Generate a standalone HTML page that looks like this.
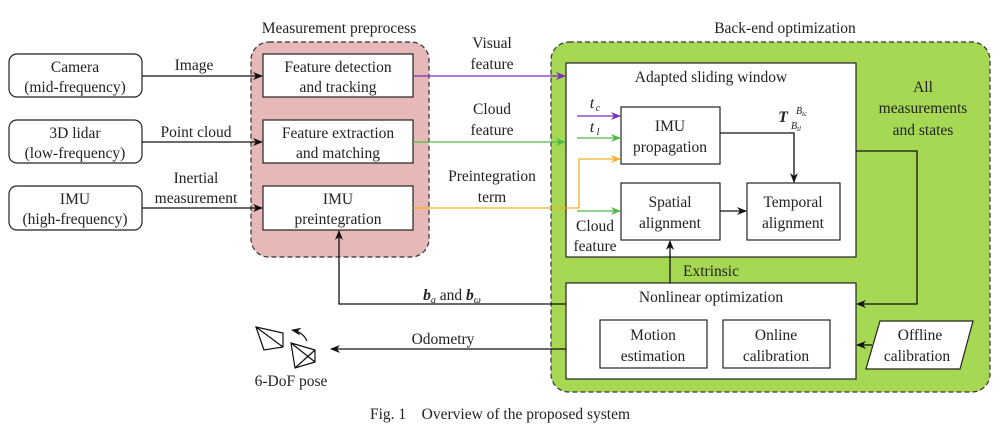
<!DOCTYPE html>
<html><head><meta charset="utf-8"><style>
html,body{margin:0;padding:0;background:#fff;}
svg{display:block;}
svg text{font-family:"Liberation Serif","DejaVu Serif",serif !important;font-size:15.5px;fill:#222;text-anchor:middle;}
</style></head><body>
<svg width="1002" height="437" viewBox="0 0 1002 437" xmlns="http://www.w3.org/2000/svg" font-family="Liberation Serif, serif">
<defs>
<marker id="ak" markerWidth="10" markerHeight="8" refX="9" refY="4" orient="auto" markerUnits="userSpaceOnUse"><path d="M0,0 L10,4 L0,8 L3,4 Z" fill="#111"/></marker>
<marker id="ap" markerWidth="10" markerHeight="8" refX="9" refY="4" orient="auto" markerUnits="userSpaceOnUse"><path d="M0,0 L10,4 L0,8 L3,4 Z" fill="#7b2fbe"/></marker>
<marker id="ag" markerWidth="10" markerHeight="8" refX="9" refY="4" orient="auto" markerUnits="userSpaceOnUse"><path d="M0,0 L10,4 L0,8 L3,4 Z" fill="#4cbb47"/></marker>
<marker id="ao" markerWidth="10" markerHeight="8" refX="9" refY="4" orient="auto" markerUnits="userSpaceOnUse"><path d="M0,0 L10,4 L0,8 L3,4 Z" fill="#f5b025"/></marker>
</defs>
<rect x="251" y="42" width="178" height="215" rx="18" fill="#e6b8b7" stroke="#333" stroke-dasharray="5,3" stroke-width="1.2"/>
<text x="339" y="33">Measurement preprocess</text>
<rect x="551" y="42" width="439" height="350" rx="18" fill="#a6d854" stroke="#333" stroke-dasharray="5,3" stroke-width="1.2"/>
<text x="785" y="33">Back-end optimization</text>
<g fill="#fff" stroke="#222" stroke-width="1.2">
<rect x="9" y="54" width="133" height="43" rx="8"/>
<rect x="9" y="120" width="133" height="43" rx="8"/>
<rect x="9" y="186" width="133" height="44" rx="8"/>
<rect x="263" y="54" width="150" height="43"/>
<rect x="263" y="120" width="150" height="43"/>
<rect x="263" y="186" width="150" height="44"/>
<rect x="566" y="63" width="290" height="194"/>
<rect x="621" y="107" width="99" height="57"/>
<rect x="621" y="183" width="99" height="57"/>
<rect x="747" y="183" width="93" height="57"/>
<rect x="566" y="283" width="290" height="96"/>
<rect x="600" y="320" width="107" height="48"/>
<rect x="723" y="320" width="107" height="48"/>
<path d="M880,321 L973,321 L960,369 L866,369 Z"/>
</g>
<text x="75" y="72">Camera</text><text x="75" y="92">(mid-frequency)</text>
<text x="75" y="138">3D lidar</text><text x="75" y="158">(low-frequency)</text>
<text x="75" y="204">IMU</text><text x="75" y="224">(high-frequency)</text>
<text x="338" y="72">Feature detection</text><text x="338" y="92">and tracking</text>
<text x="338" y="138">Feature extraction</text><text x="338" y="158">and matching</text>
<text x="338" y="204">IMU</text><text x="338" y="224">preintegration</text>
<text x="711" y="82">Adapted sliding window</text>
<text x="670" y="131">IMU</text><text x="670" y="152">propagation</text>
<text x="670" y="207">Spatial</text><text x="670" y="228">alignment</text>
<text x="793" y="207">Temporal</text><text x="793" y="228">alignment</text>
<text x="711" y="302">Nonlinear optimization</text>
<text x="653" y="340">Motion</text><text x="653" y="361">estimation</text>
<text x="776" y="340">Online</text><text x="776" y="361">calibration</text>
<text x="920" y="340">Offline</text><text x="917" y="361">calibration</text>
<text x="923" y="92">All</text><text x="923" y="113">measurements</text><text x="923" y="135">and states</text>
<text x="194" y="70">Image</text>
<text x="196" y="137">Point cloud</text>
<text x="196" y="183">Inertial</text><text x="196" y="203">measurement</text>
<text x="492" y="48">Visual</text><text x="492" y="69">feature</text>
<text x="492" y="114">Cloud</text><text x="492" y="135">feature</text>
<text x="492" y="181">Preintegration</text><text x="492" y="202">term</text>
<text x="595" y="231">Cloud</text><text x="595" y="251">feature</text>
<text x="592" y="108" font-style="italic">t</text><text x="598" y="111" style="font-size:10px;font-style:italic">c</text>
<text x="592" y="132" font-style="italic">t</text><text x="598" y="135" style="font-size:10px;font-style:italic">l</text>
<text x="783" y="122" style="font-weight:bold;font-style:italic;font-size:16px">T</text>
<text x="796" y="114" style="font-size:10px;font-style:italic;text-anchor:start">B<tspan style="font-size:7px" dy="2">tc</tspan></text>
<text x="791" y="129" style="font-size:10px;font-style:italic;text-anchor:start">B<tspan style="font-size:7px" dy="2">tl</tspan></text>
<text x="711" y="276">Extrinsic</text>
<text x="452" y="300"><tspan font-weight="bold" font-style="italic">b</tspan><tspan style="font-size:10px;font-style:italic" dy="3">a</tspan><tspan dy="-3"> and </tspan><tspan font-weight="bold" font-style="italic">b</tspan><tspan style="font-size:10px;font-style:italic" dy="3">ω</tspan></text>
<text x="443" y="344">Odometry</text>
<text x="291" y="386">6-DoF pose</text>
<text x="500" y="419" xml:space="preserve">Fig. 1    Overview of the proposed system</text>
<g fill="none" stroke-width="1.3">
<path d="M142,76 H262" stroke="#111" marker-end="url(#ak)"/>
<path d="M142,142 H262" stroke="#111" marker-end="url(#ak)"/>
<path d="M142,208 H262" stroke="#111" marker-end="url(#ak)"/>
<path d="M413,76 H565" stroke="#7b2fbe" marker-end="url(#ap)"/>
<path d="M413,142 H565" stroke="#4cbb47" marker-end="url(#ag)"/>
<path d="M413,208 H579 V159 H620" stroke="#f5b025" marker-end="url(#ao)"/>
<path d="M577,116 H620" stroke="#7b2fbe" marker-end="url(#ap)"/>
<path d="M577,138 H620" stroke="#4cbb47" marker-end="url(#ag)"/>
<path d="M577,211 H620" stroke="#4cbb47" marker-end="url(#ag)"/>
<path d="M720,133 H794 V182" stroke="#111" marker-end="url(#ak)"/>
<path d="M720,211 H746" stroke="#111" marker-end="url(#ak)"/>
<path d="M670,283 V241" stroke="#111" marker-end="url(#ak)"/>
<path d="M856,151 H917 V304 H857" stroke="#111" marker-end="url(#ak)"/>
<path d="M872,345 H857" stroke="#111" marker-end="url(#ak)"/>
<path d="M566,304 H339 V231" stroke="#111" marker-end="url(#ak)"/>
<path d="M566,349 H331" stroke="#111" marker-end="url(#ak)"/>
<g stroke="#111" stroke-width="1.2">
<path d="M256,327 L283,333 L283,347 L264,350 Z M256,327 L283,347 M256,327 L264,350"/>
<path d="M291,343 L315,350 L315,362 L295,368 Z M291,343 L315,362 M295,368 L315,350"/>
<path d="M307,341 Q303,332 292,330" marker-end="url(#ak)"/>
</g>
</g>
</svg>
</body></html>
